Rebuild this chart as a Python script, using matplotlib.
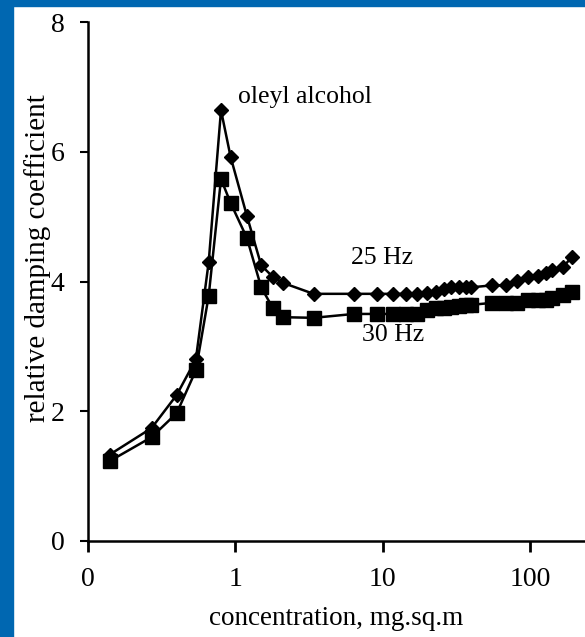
import matplotlib
matplotlib.use('Agg')
import matplotlib.pyplot as plt
from matplotlib.patches import Rectangle

plt.rcParams['font.family'] = ['Liberation Serif', 'DejaVu Serif']

# concentration, mg per sq.m (log axis, 0.1 is labelled "0")
conc = [0.14, 0.27, 0.40, 0.54, 0.66, 0.80, 0.93, 1.2, 1.5, 1.8, 2.1,
        3.4, 6.4, 9.2, 11.8, 14.4, 17.1, 20, 23, 26, 29, 33, 37, 40,
        55, 69, 82, 97, 114, 129, 141, 168, 193]

damp_25hz = [1.33, 1.74, 2.25, 2.80, 4.30, 6.64, 5.92, 5.01, 4.25, 4.07, 3.98,
             3.81, 3.81, 3.81, 3.81, 3.81, 3.81, 3.82, 3.84, 3.88, 3.91, 3.91, 3.91, 3.91,
             3.94, 3.94, 4.01, 4.07, 4.08, 4.13, 4.18, 4.22, 4.38]

damp_30hz = [1.23, 1.60, 1.97, 2.63, 3.78, 5.58, 5.21, 4.67, 3.91, 3.59, 3.45,
             3.44, 3.50, 3.50, 3.50, 3.50, 3.50, 3.56, 3.59, 3.59, 3.60, 3.62, 3.64, 3.64,
             3.67, 3.67, 3.67, 3.71, 3.71, 3.71, 3.74, 3.79, 3.84]

x_ticks = [0.1, 1, 10, 100]
x_tick_labels = ['0', '1', '10', '100']
y_ticks = [0, 2, 4, 6, 8]

fig = plt.figure(figsize=(5.85, 6.37), dpi=100)

# blue frame along the top and left edges
fig.patches.append(Rectangle((0, 0), 12.5 / 585, 1, transform=fig.transFigure,
                             color='#0067B1', zorder=0))
fig.patches.append(Rectangle((0, 1 - 5.5 / 637), 1, 5.5 / 637, transform=fig.transFigure,
                             color='#0067B1', zorder=0))

ax = fig.add_axes([88 / 585, 1 - 541 / 637, 1 - 88 / 585, (541 - 22) / 637])
ax.patch.set_alpha(0)

ax.plot(conc, damp_25hz, color='black', lw=1.8, marker='D', ms=7, clip_on=False)
ax.plot(conc, damp_30hz, color='black', lw=1.8, marker='s', ms=9.5, clip_on=False)

ax.set_xscale('log')
ax.set_xlim(0.1, 237)
ax.set_ylim(0, 8)
ax.set_xticks(x_ticks)
ax.set_xticklabels(x_tick_labels)
ax.minorticks_off()
ax.set_yticks(y_ticks)

for side in ['top', 'right']:
    ax.spines[side].set_visible(False)
for side in ['left', 'bottom']:
    ax.spines[side].set_linewidth(1.8)

ax.tick_params(axis='x', direction='out', length=8, width=2, pad=11, labelsize=20)
ax.tick_params(axis='y', direction='out', length=6, width=1.5, pad=11, labelsize=20)

ax.set_xlabel('concentration, mg.sq.m', fontsize=19.5, labelpad=10)
ax.set_ylabel('relative damping coefficient', fontsize=21)
ax.yaxis.set_label_coords(-0.075, 0.545)

ax.text(2.97, 6.84, 'oleyl alcohol', fontsize=18.5, ha='center', va='center')
ax.text(9.9, 4.36, '25 Hz', fontsize=18.5, ha='center', va='center')
ax.text(11.8, 3.17, '30 Hz', fontsize=18.5, ha='center', va='center')

fig.savefig('out.png', dpi=100)
